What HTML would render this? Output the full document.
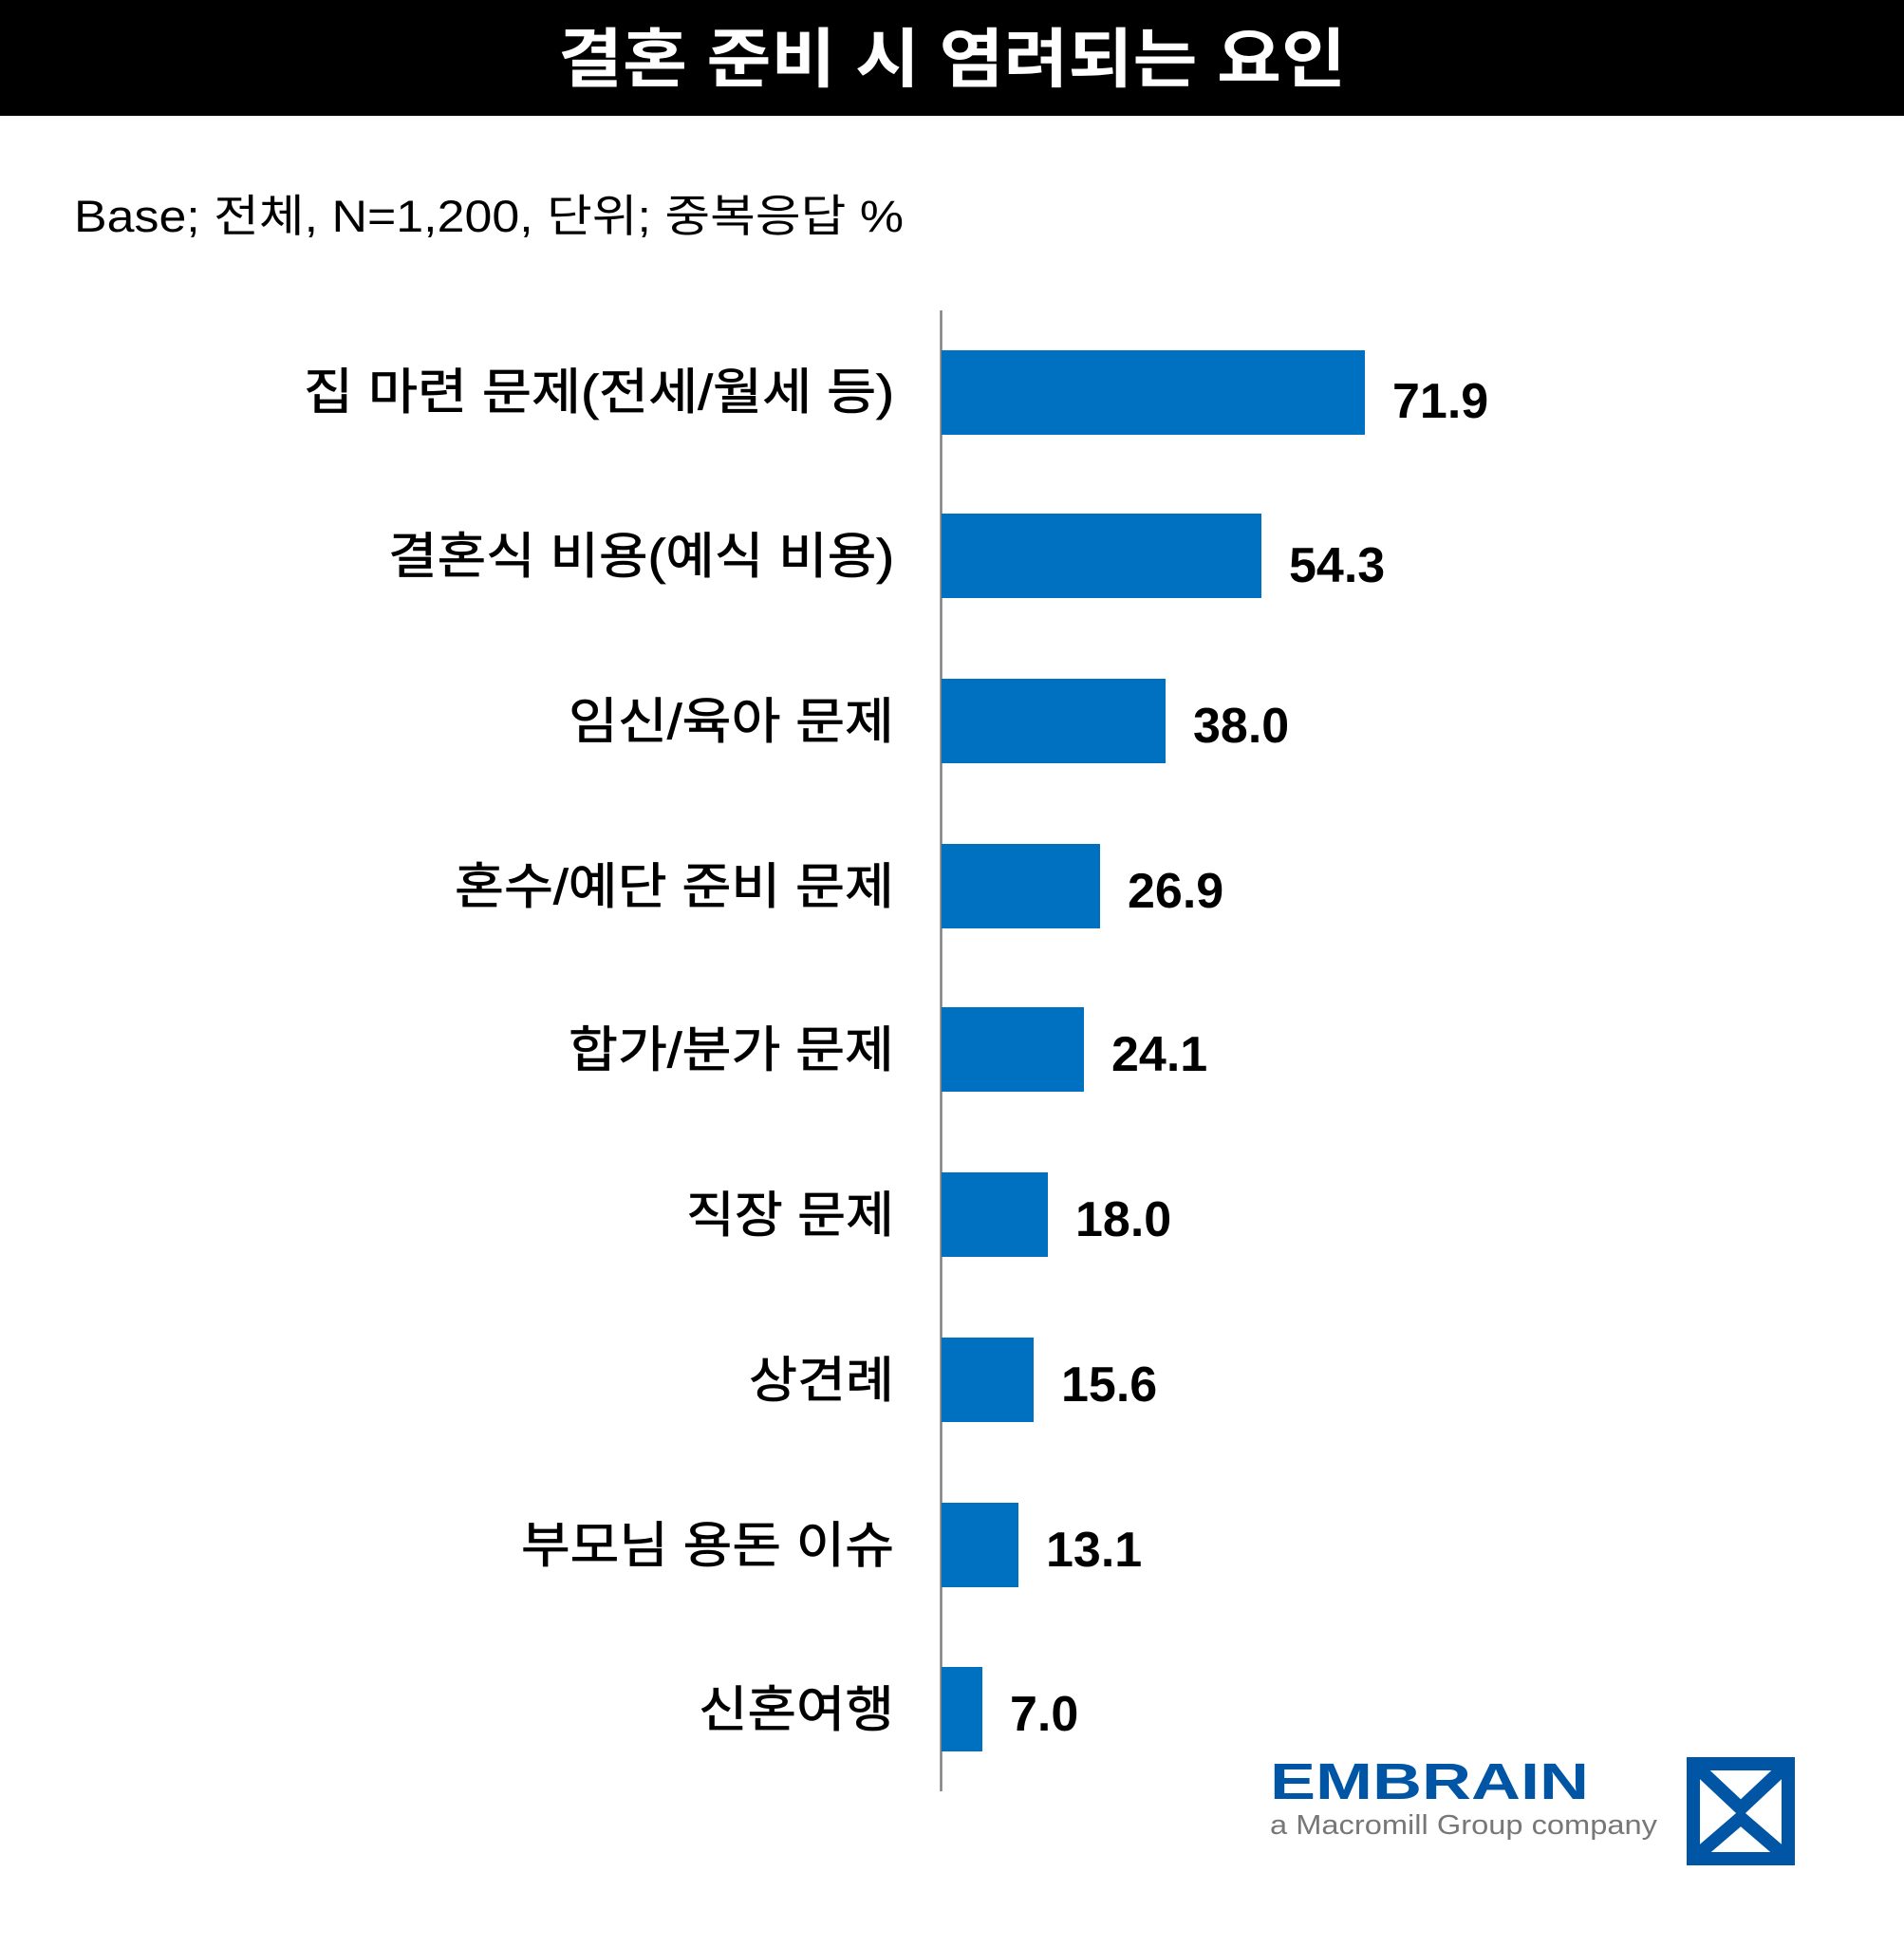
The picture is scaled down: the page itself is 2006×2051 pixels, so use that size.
<!DOCTYPE html>
<html><head><meta charset="utf-8"><style>
html,body{margin:0;padding:0;background:#fff;}
svg{display:block;}
.t{font-family:"Liberation Sans","Noto Sans CJK KR",sans-serif;}
</style></head><body>
<svg width="2006" height="2051" viewBox="0 0 2006 2051" xmlns="http://www.w3.org/2000/svg">
<rect x="0" y="0" width="2006" height="122" fill="#000"/>
<text class="t" x="588" y="86" font-size="68" font-weight="bold" fill="#fff" textLength="830" lengthAdjust="spacingAndGlyphs">결혼 준비 시 염려되는 요인</text>
<text class="t" x="78" y="244" font-size="47" fill="#000" textLength="874" lengthAdjust="spacingAndGlyphs">Base; 전체, N=1,200, 단위; 중복응답 %</text>
<line x1="991.5" y1="327" x2="991.5" y2="1887" stroke="#808080" stroke-width="2.5"/>
<g fill="#0070c0">
<rect x="992" y="369" width="446" height="89"/>
<rect x="992" y="541" width="337" height="89"/>
<rect x="992" y="715" width="236" height="89"/>
<rect x="992" y="889" width="167" height="89"/>
<rect x="992" y="1061" width="150" height="89"/>
<rect x="992" y="1235" width="112" height="89"/>
<rect x="992" y="1409" width="97" height="89"/>
<rect x="992" y="1583" width="81" height="89"/>
<rect x="992" y="1756" width="43" height="89"/>
</g>
<g class="t" font-size="52" fill="#000" stroke="#000" stroke-width="0.8" lengthAdjust="spacingAndGlyphs">
<text x="320" y="431" textLength="622" lengthAdjust="spacingAndGlyphs">집 마련 문제(전세/월세 등)</text>
<text x="409" y="604" textLength="533" lengthAdjust="spacingAndGlyphs">결혼식 비용(예식 비용)</text>
<text x="599" y="778" textLength="343" lengthAdjust="spacingAndGlyphs">임신/육아 문제</text>
<text x="479" y="952" textLength="463" lengthAdjust="spacingAndGlyphs">혼수/예단 준비 문제</text>
<text x="599" y="1124" textLength="343" lengthAdjust="spacingAndGlyphs">합가/분가 문제</text>
<text x="723" y="1298" textLength="219" lengthAdjust="spacingAndGlyphs">직장 문제</text>
<text x="789" y="1472" textLength="153" lengthAdjust="spacingAndGlyphs">상견례</text>
<text x="549" y="1646" textLength="393" lengthAdjust="spacingAndGlyphs">부모님 용돈 이슈</text>
<text x="736" y="1819" textLength="206" lengthAdjust="spacingAndGlyphs">신혼여행</text>
</g>
<g class="t" font-size="52" font-weight="bold" fill="#000">
<text x="1467" y="440">71.9</text>
<text x="1358" y="613">54.3</text>
<text x="1257" y="782">38.0</text>
<text x="1188" y="956">26.9</text>
<text x="1171" y="1128">24.1</text>
<text x="1133" y="1302">18.0</text>
<text x="1118" y="1476">15.6</text>
<text x="1102" y="1650">13.1</text>
<text x="1064" y="1823">7.0</text>
</g>
<text class="t" x="1338" y="1895" font-size="54" font-weight="bold" fill="#0055a5" textLength="336" lengthAdjust="spacingAndGlyphs">EMBRAIN</text>
<text class="t" x="1338" y="1932" font-size="29" fill="#777" textLength="408" lengthAdjust="spacingAndGlyphs">a Macromill Group company</text>
<g stroke="#0055a5" stroke-width="14" fill="none">
<rect x="1784" y="1858" width="100" height="100"/>
<polyline points="1784,1858 1834,1905 1884,1858"/>
<polyline points="1784,1958 1834,1915 1884,1958"/>
</g>
</svg>
</body></html>
